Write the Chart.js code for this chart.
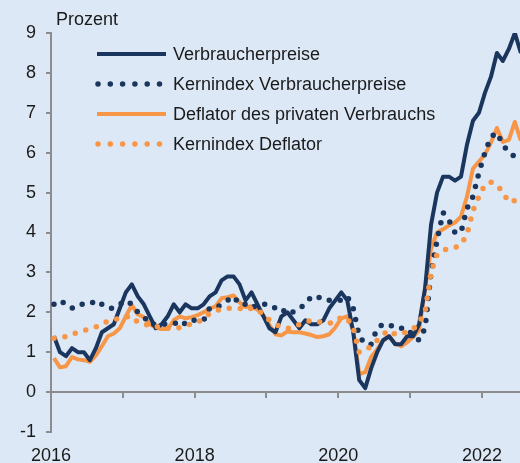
<!DOCTYPE html>
<html lang="de">
<head>
    <meta charset="UTF-8">
    <title>Inflation USA</title>
    <style>
        * { margin: 0; padding: 0; box-sizing: border-box; }
        body { background-color: #dce8f6; }
        .chart-box { width: 520px; height: 463px; position: relative; }
    </style>
    <script src="https://cdn.jsdelivr.net/npm/chart.js@4.4.1/dist/chart.umd.min.js"></script>
</head>
<body>
    <div class="chart-box">
        <canvas id="inflationChart"></canvas>
    </div>

    <script>
        // Monthly data, Jan 2016 - Jul 2022, year-on-year in percent
        const startYear = 2016;

        const cpi = [
            1.4, 1.0, 0.9, 1.1, 1.0, 1.0, 0.8, 1.1, 1.5, 1.6, 1.7, 2.1,
            2.5, 2.7, 2.4, 2.2, 1.9, 1.6, 1.7, 1.9, 2.2, 2.0, 2.2, 2.1,
            2.1, 2.2, 2.4, 2.5, 2.8, 2.9, 2.9, 2.7, 2.3, 2.5, 2.2, 1.9,
            1.6, 1.5, 1.9, 2.0, 1.8, 1.6, 1.8, 1.7, 1.7, 1.8, 2.1, 2.3,
            2.5, 2.3, 1.5, 0.3, 0.1, 0.6, 1.0, 1.3, 1.4, 1.2, 1.2, 1.4,
            1.4, 1.7, 2.6, 4.2, 5.0, 5.4, 5.4, 5.3, 5.4, 6.2, 6.8, 7.0,
            7.5, 7.9, 8.5, 8.3, 8.6, 9.0, 8.5
        ];

        const coreCpi = [
            2.2, 2.3, 2.2, 2.1, 2.2, 2.2, 2.2, 2.3, 2.2, 2.1, 2.1, 2.2,
            2.3, 2.2, 2.0, 1.9, 1.7, 1.7, 1.7, 1.7, 1.7, 1.8, 1.7, 1.8,
            1.8, 1.8, 2.1, 2.1, 2.2, 2.3, 2.4, 2.2, 2.2, 2.1, 2.2, 2.2,
            2.2, 2.1, 2.0, 2.1, 2.0, 2.1, 2.2, 2.4, 2.4, 2.3, 2.3, 2.3,
            2.3, 2.4, 2.1, 1.4, 1.2, 1.2, 1.6, 1.7, 1.7, 1.6, 1.6, 1.6,
            1.4, 1.3, 1.6, 3.0, 3.8, 4.5, 4.3, 4.0, 4.0, 4.6, 4.9, 5.5,
            6.0, 6.4, 6.5, 6.2, 6.0, 5.9, 5.9
        ];

        const pce = [
            0.85, 0.62, 0.65, 0.88, 0.82, 0.8, 0.76, 0.92, 1.15, 1.4, 1.47, 1.6,
            1.9, 2.18, 1.95, 1.88, 1.7, 1.62, 1.58, 1.58, 1.8, 1.9, 1.85, 1.88,
            1.93, 2.0, 2.1, 2.15, 2.35, 2.38, 2.42, 2.25, 2.13, 2.15, 2.06, 1.92,
            1.68, 1.45, 1.42, 1.52, 1.5, 1.5, 1.47, 1.43, 1.38, 1.4, 1.45, 1.62,
            1.85, 1.9, 1.55, 0.45, 0.5, 0.88, 1.07, 1.3, 1.4, 1.22, 1.15, 1.25,
            1.38, 1.55, 2.6, 3.6, 4.0, 4.08, 4.18, 4.25, 4.4, 4.9, 5.6, 5.78,
            5.95, 6.25, 6.62, 6.27, 6.32, 6.77, 6.3
        ];

        const corePce = [
            1.35, 1.37, 1.39, 1.45, 1.5, 1.55, 1.58, 1.63, 1.7, 1.78, 1.82, 1.85,
            1.88, 1.9, 1.75, 1.7, 1.68, 1.65, 1.6, 1.6, 1.58, 1.62, 1.68, 1.7,
            1.75, 1.85, 1.97, 2.04, 2.08, 2.1, 2.1, 2.1, 2.05, 2.1, 2.06, 1.95,
            1.8, 1.7, 1.62, 1.6, 1.62, 1.7, 1.75, 1.8, 1.78, 1.72, 1.73, 1.75,
            1.88, 1.85, 1.6, 1.0, 1.05, 1.15, 1.3, 1.45, 1.55, 1.45, 1.45, 1.52,
            1.58, 1.75, 2.0, 3.0, 3.45, 3.55, 3.6, 3.62, 3.7, 3.95, 4.55, 4.9,
            5.2, 5.26, 5.2, 5.0, 4.76, 4.8, 4.65
        ];

        const seriesNames = [
            'Verbraucherpreise',
            'Kernindex Verbraucherpreise',
            'Deflator des privaten Verbrauchs',
            'Kernindex Deflator'
        ];
        const yearLabels = [2016, 2018, 2020, 2022];

        const NAVY = '#1b365e';
        const ORANGE = '#f79646';
        const AXIS = '#8c8c8c';
        const TEXT = '#1a1a1a';
        const FONT = "'Liberation Sans', Arial, sans-serif";

        // month i sits in the middle of its month on a decimal-year axis
        const toPoints = arr => arr.map((v, i) => ({ x: startYear + (i + 0.5) / 12, y: v }));

        const datasets = [
            { label: seriesNames[3], data: toPoints(corePce), borderColor: ORANGE, borderWidth: 5.5, borderDash: [0, 11], borderCapStyle: 'round', dotted: true },
            { label: seriesNames[1], data: toPoints(coreCpi), borderColor: NAVY, borderWidth: 5.5, borderDash: [0, 11], borderCapStyle: 'round', dotted: true },
            { label: seriesNames[0], data: toPoints(cpi), borderColor: NAVY, borderWidth: 4 },
            { label: seriesNames[2], data: toPoints(pce), borderColor: ORANGE, borderWidth: 4 }
        ];
        datasets.forEach(d => { d.pointRadius = 0; d.tension = 0; d.fill = false; d.borderJoinStyle = 'round'; });

        // zero line with year ticks, drawn under the series
        const zeroAxis = {
            id: 'zeroAxis',
            beforeDatasetsDraw(chart) {
                const { ctx, chartArea, scales } = chart;
                const y0 = scales.y.getPixelForValue(0);
                ctx.save();
                ctx.strokeStyle = AXIS;
                ctx.lineWidth = 2;
                ctx.beginPath();
                ctx.moveTo(chartArea.left, y0);
                ctx.lineTo(chartArea.right, y0);
                for (let yr = startYear + 1; yr <= 2022; yr++) {
                    const x = Math.round(scales.x.getPixelForValue(yr));
                    ctx.moveTo(x, y0);
                    ctx.lineTo(x, y0 + 6);
                }
                ctx.stroke();
                ctx.restore();
            }
        };

        // unit label and legend inside the plot
        const extras = {
            id: 'extras',
            afterDraw(chart) {
                const { ctx } = chart;
                ctx.save();
                ctx.fillStyle = TEXT;
                ctx.font = '18px ' + FONT;
                ctx.textBaseline = 'alphabetic';
                ctx.fillText('Prozent', 56, 25);

                const order = [2, 1, 3, 0];
                order.forEach((di, row) => {
                    const ds = chart.data.datasets[di];
                    const y = 54 + row * 30;
                    ctx.strokeStyle = ds.borderColor;
                    ctx.beginPath();
                    if (ds.dotted) {
                        ctx.lineWidth = 5.5;
                        ctx.lineCap = 'round';
                        ctx.setLineDash([0, 12.3]);
                        ctx.moveTo(98, y);
                        ctx.lineTo(162, y);
                    } else {
                        ctx.lineWidth = 4;
                        ctx.lineCap = 'butt';
                        ctx.setLineDash([]);
                        ctx.moveTo(97, y);
                        ctx.lineTo(166, y);
                    }
                    ctx.stroke();
                    ctx.setLineDash([]);
                    ctx.fillText(ds.label, 173, y + 6);
                });
                ctx.restore();
            }
        };

        new Chart(document.getElementById('inflationChart'), {
            type: 'line',
            data: { datasets },
            options: {
                responsive: true,
                maintainAspectRatio: false,
                animation: false,
                layout: { padding: { top: 33, right: 0, bottom: 0, left: 0 } },
                plugins: { legend: { display: false }, tooltip: { enabled: false } },
                scales: {
                    x: {
                        type: 'linear',
                        min: 2016,
                        max: 2022.53,
                        grid: { display: false },
                        border: { display: false },
                        ticks: {
                            stepSize: 1,
                            includeBounds: false,
                            autoSkip: false,
                            maxRotation: 0,
                            padding: 5,
                            color: TEXT,
                            font: { size: 18, family: FONT },
                            callback: v => yearLabels.includes(v) ? String(v) : ''
                        },
                        afterFit(scale) {
                            scale.height = 31;
                            scale.paddingRight = 0;
                        }
                    },
                    y: {
                        min: -1,
                        max: 9,
                        grid: { drawOnChartArea: false, tickLength: 5, color: AXIS, lineWidth: 2 },
                        border: { color: AXIS, width: 2 },
                        ticks: {
                            stepSize: 1,
                            padding: 10,
                            color: TEXT,
                            font: { size: 18, family: FONT }
                        },
                        afterFit(scale) { scale.width = 51; }
                    }
                }
            },
            plugins: [zeroAxis, extras]
        });
    </script>
</body>
</html>
